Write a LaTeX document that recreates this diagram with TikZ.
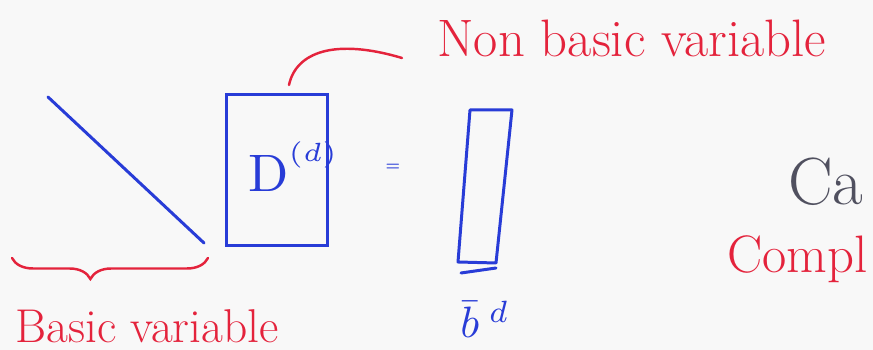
\documentclass[tikz,border=0pt]{standalone}
\usepackage{fontspec}
\usepackage{graphicx}
\usetikzlibrary{decorations.pathreplacing}
\definecolor{penblue}{RGB}{40,60,215}
\definecolor{penred}{RGB}{228,35,60}
\definecolor{pengray}{RGB}{80,80,95}
\definecolor{paper}{RGB}{248,248,248}
\begin{document}
\begin{tikzpicture}[x=0.02cm,y=-0.02cm,
  bluepen/.style={penblue,line width=1.7pt,line cap=round,line join=round},
  redpen/.style={penred,line width=1.4pt,line cap=round},
  bluebox/.style={draw=penblue,line width=1.7pt,minimum width=2.02cm,minimum height=3.02cm,inner sep=0pt},
  note/.style={penred,inner sep=0pt}]
\useasboundingbox (0,0) rectangle (873,350);
\fill[paper] (0,0) rectangle (873,350);

% left block: basic part
\draw[bluepen] (48,97) -- (204,243);
\draw[redpen,decorate,decoration={brace,amplitude=0.42cm,aspect=0.6}] (208,258) -- (12,258);
\node[note,anchor=base west,font=\fontsize{27}{32}\selectfont] (basic) at (15,343) {Basic variable};

% non basic matrix
\node[bluebox] (dmat) at (277,170) {};
\node[penblue,anchor=base west,inner sep=0pt] (dlab) at (248,192) {\scalebox{3}{$\mathrm{D}^{\raisebox{0.5ex}{$\scriptscriptstyle(d)$}}$}};
\coordinate (nbtail) at (402,58);
\draw[redpen] ([shift={(12,-8)}]dmat.north) .. controls (296,52) and (335,38) .. (nbtail);
\node[note,anchor=base west,font=\fontsize{30}{35}\selectfont] (nonbasic) at (437,57) {Non basic variable};

% right hand side
\node[penblue,font=\small\bfseries] (eqs) at (393,167) {=};
\draw[bluepen] (470,110) -- (512,110) -- (496,263) -- (458,262) -- cycle;
\draw[bluepen] (461,273) -- (496,268);
\node[penblue,anchor=base west,inner sep=0pt] (blab) at (460,338) {\scalebox{2.5}{$\bar{b}^{\;d}$}};

% cut off words
\node[pengray,anchor=base west,inner sep=0pt,font=\fontsize{38}{38}\selectfont] (casew) at (788,205) {Ca};
\node[note,anchor=base west,font=\fontsize{30}{30}\selectfont] (compl) at (727,273) {Compl};
\end{tikzpicture}
\end{document}
